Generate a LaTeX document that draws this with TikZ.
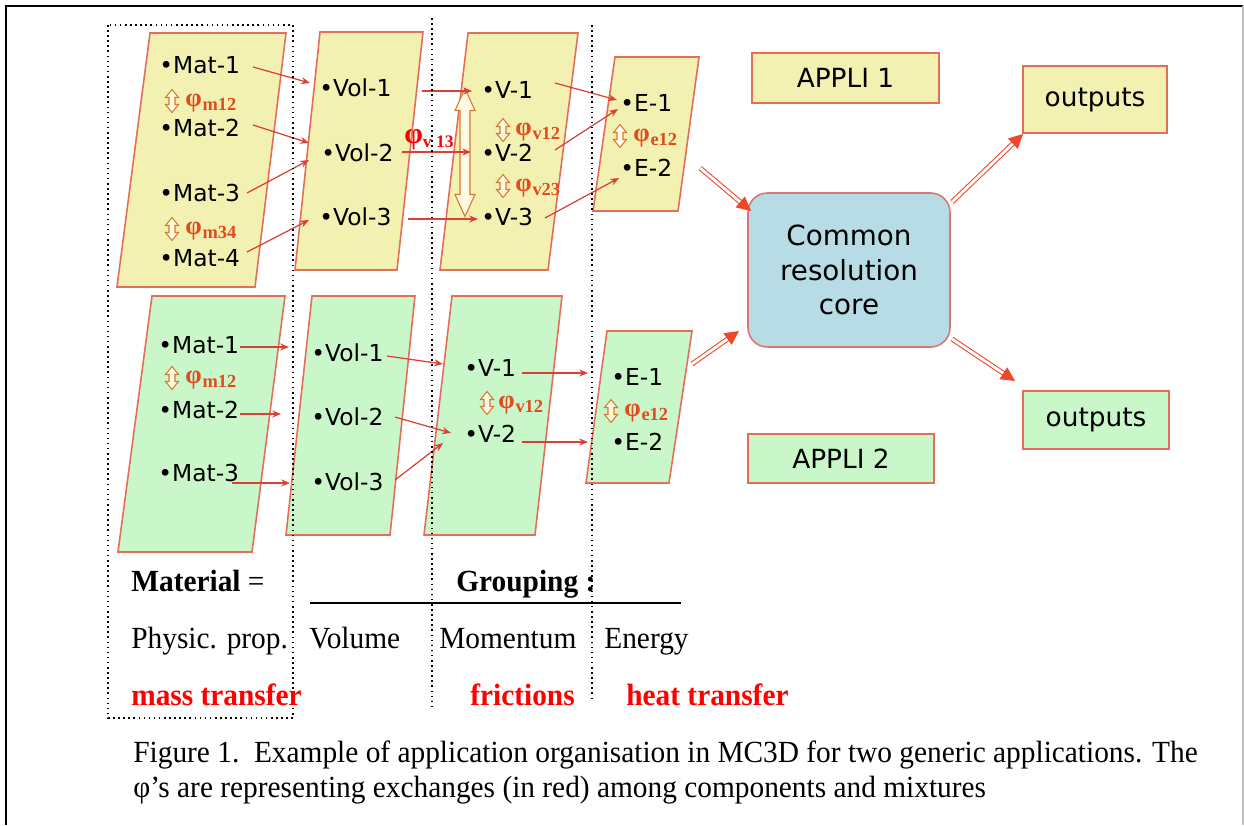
\documentclass[tikz,border=0pt]{standalone}
\usepackage{fontspec}
\setmainfont[FakeStretch=0.955]{Liberation Serif}
\newfontfamily\diagfont{DejaVu Sans}
\newfontfamily\phifont{Liberation Serif}
\usetikzlibrary{arrows.meta}

\definecolor{yfill}{RGB}{243,241,178}
\definecolor{gfill}{RGB}{202,247,202}
\definecolor{pline}{RGB}{228,110,90}
\definecolor{lred}{RGB}{215,65,55}
\definecolor{phicol}{RGB}{225,75,30}
\definecolor{iconcol}{RGB}{215,120,50}
\definecolor{iconfill}{RGB}{255,250,225}
\definecolor{corefill}{RGB}{183,220,229}
\definecolor{coreline}{RGB}{215,120,115}
\definecolor{fatred}{RGB}{238,72,40}

\newcommand\phisub[1]{φ\kern0.4pt\raisebox{-0.35ex}{\fontsize{10.5}{10.5}\selectfont #1}}

\tikzset{
  panelA/.style={draw=pline, line width=0.9pt, fill=yfill},
  panelB/.style={draw=pline, line width=0.9pt, fill=gfill},
  item/.style={font=\diagfont\fontsize{13.3}{16}\selectfont, inner sep=0pt, anchor=west},
  philabel/.style={font=\phifont\bfseries\fontsize{15}{15}\selectfont, text=phicol, inner sep=0pt, anchor=west},
  link/.style={draw=lred, line width=0.7pt, -{Stealth[length=5pt,width=4pt]}},
  fat/.style={draw=fatred, line width=0.6pt, double=white, double distance=1.6pt, -{Triangle[length=8pt,width=8pt]}},
  guide/.style={dotted, line width=0.9pt},
  tagbox/.style={draw=pline, line width=0.9pt, font=\diagfont\fontsize{15}{18}\selectfont, inner sep=0pt},
  core/.style={draw=coreline, line width=0.9pt, fill=corefill, rounded corners=11pt, align=center,
    font=\diagfont\fontsize{15.8}{19.8}\selectfont, inner sep=0pt},
  legend/.style={font=\fontsize{17.5}{20}\selectfont, inner sep=0pt, anchor=base west},
  pics/updown/.style args={#1/#2/#3/#4}{code={
    \draw[draw=iconcol, fill=iconfill, line width=0.6pt]
      (0,-#1) -- (#3,-#1+#2) -- (#4,-#1+#2) -- (#4,#1-#2) -- (#3,#1-#2) -- (0,#1)
      -- (-#3,#1-#2) -- (-#4,#1-#2) -- (-#4,-#1+#2) -- (-#3,-#1+#2) -- cycle;}}
}

\begin{document}
\begin{tikzpicture}[x=0.02cm, y=-0.02cm]
\useasboundingbox (0,0) rectangle (1244,825);

% page frame
\draw[line width=1.5pt] (6,825) -- (6,6) -- (1243,6);
\draw[gray!50, line width=0.6pt] (1243,6) -- (1243,825);

% ---- application 1 (yellow) ----
\draw[panelA] (150,33) -- (286,33) -- (255,287) -- (117,287) -- cycle;
\draw[panelA] (320,32) -- (423,32) -- (397,270) -- (295,270) -- cycle;
\draw[panelA] (468,33) -- (578,33) -- (548,270) -- (440,270) -- cycle;
\draw[panelA] (615,57) -- (699,57) -- (678,211) -- (593,211) -- cycle;

% ---- application 2 (green) ----
\draw[panelB] (152,296) -- (285,296) -- (252,552) -- (118,552) -- cycle;
\draw[panelB] (312,296) -- (415,296) -- (390,535) -- (286,535) -- cycle;
\draw[panelB] (452,296) -- (562,296) -- (535,535) -- (424,535) -- cycle;
\draw[panelB] (607,331) -- (692,331) -- (669,483) -- (586,483) -- cycle;

% material / volume / momentum / energy items, application 1
\node[item] (am1) at (159,65)  {•Mat-1};
\node[item] (am2) at (159,128) {•Mat-2};
\node[item] (am3) at (159,193) {•Mat-3};
\node[item] (am4) at (159,258) {•Mat-4};
\node[item] (av1) at (319,88)  {•Vol-1};
\node[item] (av2) at (321,153) {•Vol-2};
\node[item] (av3) at (319,217) {•Vol-3};
\node[item] (ap1) at (481,90)  {•V-1};
\node[item] (ap2) at (481,153) {•V-2};
\node[item] (ap3) at (481,217) {•V-3};
\node[item] (ae1) at (620,103) {•E-1};
\node[item] (ae2) at (620,168) {•E-2};

% material / volume / momentum / energy items, application 2
\node[item] (bm1) at (158,345) {•Mat-1};
\node[item] (bm2) at (158,410) {•Mat-2};
\node[item] (bm3) at (158,473) {•Mat-3};
\node[item] (bv1) at (311,353) {•Vol-1};
\node[item] (bv2) at (311,417) {•Vol-2};
\node[item] (bv3) at (311,482) {•Vol-3};
\node[item] (bp1) at (464,368) {•V-1};
\node[item] (bp2) at (464,434) {•V-2};
\node[item] (be1) at (611,377) {•E-1};
\node[item] (be2) at (611,442) {•E-2};

% exchange markers
\pic at (172,101) {updown={11.5/8/6.5/3}};
\node[philabel] (aphm12) at (185,103) {\phisub{m12}};
\pic at (172,229) {updown={11.5/8/6.5/3}};
\node[philabel] (aphm34) at (185,231) {\phisub{m34}};
\pic at (503,130) {updown={11.5/8/6.5/3}};
\node[philabel] (aphv12) at (515,132) {\phisub{v12}};
\pic at (503,186) {updown={11.5/8/6.5/3}};
\node[philabel] (aphv23) at (515,188) {\phisub{v23}};
\pic at (620,136) {updown={11.5/8/6.5/3}};
\node[philabel] (aphe12) at (633,138) {\phisub{e12}};
\pic at (172,378) {updown={11.5/8/6.5/3}};
\node[philabel] (bphm12) at (185,380) {\phisub{m12}};
\pic at (487,403) {updown={11.5/8/6.5/3}};
\node[philabel] (bphv12) at (498,405) {\phisub{v12}};
\pic at (611,411) {updown={11.5/8/6.5/3}};
\node[philabel] (bphe12) at (624,413) {\phisub{e12}};

% momentum exchange between V-1 and V-3
\pic at (465,152.5) {updown={64/22/10/5}};
\node[inner sep=0pt, anchor=west, text=red, font=\phifont\bfseries\fontsize{17}{17}\selectfont]
  (aphv13) at (404,140) {φ\raisebox{-0.3ex}{\fontsize{10}{10}\selectfont v 13}};

% connector end points, application 1
\coordinate (am1o) at (253,67);  \coordinate (av1i) at (310,83);
\coordinate (am2o) at (253,125); \coordinate (av2i) at (309,143);
\coordinate (am3o) at (247,193); \coordinate (av2j) at (309,160);
\coordinate (am4o) at (247,252); \coordinate (av3i) at (309,220);
\coordinate (av1o) at (422,91);  \coordinate (ap1i) at (472,91);
\coordinate (av2o) at (402,152); \coordinate (ap2i) at (471,152);
\coordinate (av3o) at (408,219); \coordinate (ap3i) at (478,219);
\coordinate (ap1o) at (555,83);  \coordinate (ae1i) at (617,100);
\coordinate (ap2o) at (555,150); \coordinate (ae1j) at (618,109);
\coordinate (ap3o) at (545,218); \coordinate (ae2i) at (619,178);

\draw[link] (am1o) -- (av1i);
\draw[link] (am2o) -- (av2i);
\draw[link] (am3o) -- (av2j);
\draw[link] (am4o) -- (av3i);
\draw[link] (av1o) -- (ap1i);
\draw[link] (av2o) -- (ap2i);
\draw[link] (av3o) -- (ap3i);
\draw[link] (ap1o) -- (ae1i);
\draw[link] (ap2o) -- (ae1j);
\draw[link] (ap3o) -- (ae2i);

% connector end points, application 2
\coordinate (bm1o) at (240,347); \coordinate (bm1x) at (289,347);
\coordinate (bm2o) at (240,414); \coordinate (bm2x) at (281,414);
\coordinate (bm3o) at (232,483); \coordinate (bm3x) at (290,483);
\coordinate (bv1o) at (387,356); \coordinate (bp1i) at (443,364);
\coordinate (bv2o) at (395,417); \coordinate (bp2i) at (451,433);
\coordinate (bv3o) at (395,480); \coordinate (bp2j) at (443,443);
\coordinate (bp1o) at (522,373); \coordinate (be1i) at (588,373);
\coordinate (bp2o) at (522,442); \coordinate (be2i) at (588,442);

\draw[link] (bm1o) -- (bm1x);
\draw[link] (bm2o) -- (bm2x);
\draw[link] (bm3o) -- (bm3x);
\draw[link] (bv1o) -- (bp1i);
\draw[link] (bv2o) -- (bp2i);
\draw[link] (bv3o) -- (bp2j);
\draw[link] (bp1o) -- (be1i);
\draw[link] (bp2o) -- (be2i);

% right-hand blocks
\node[tagbox, fill=yfill, minimum width=3.74cm, minimum height=1.0cm] (appli1) at (845.5,78) {APPLI 1};
\node[tagbox, fill=gfill, minimum width=3.72cm, minimum height=0.98cm] (appli2) at (841,458.5) {APPLI 2};
\node[tagbox, fill=yfill, minimum width=2.88cm, minimum height=1.34cm] (out1) at (1095,99.5) {outputs};
\node[tagbox, fill=gfill, minimum width=2.92cm, minimum height=1.16cm] (out2) at (1096,420) {outputs};
\node[core, minimum width=4.04cm, minimum height=3.08cm] (core) at (849,270) {Common\\resolution\\core};

\coordinate (aeo) at (700,168);  \coordinate (corei) at (751,211);
\coordinate (beo) at (692,364);  \coordinate (corej) at (739,331);
\coordinate (coreo) at (952,202); \coordinate (out1i) at (1023,134);
\coordinate (corep) at (952,339); \coordinate (out2i) at (1015,381);
\draw[fat] (aeo) -- (corei);
\draw[fat] (beo) -- (corej);
\draw[fat] (coreo) -- (out1i);
\draw[fat] (corep) -- (out2i);

% column guides
\draw[guide] (108,25) rectangle (293,718);
\draw[guide] (432,18) -- (432,710);
\draw[guide] (592,25) -- (592,700);

% legend under the diagram
\node[legend] (lmat) at (131,591) {\textbf{Material} =};
\node[legend] (lgrp) at (456,591) {\textbf{Grouping :}};
\draw[line width=1.1pt] (310,603) -- (681,603);
\node[legend] (lphy) at (131,648) {Physic. prop.};
\node[legend] (lvol) at (309,648) {Volume};
\node[legend] (lmom) at (439,648) {Momentum};
\node[legend] (lene) at (604,648) {Energy};
\node[legend, text=red, font=\bfseries\fontsize{17.5}{20}\selectfont] (lmass) at (131,705) {mass transfer};
\node[legend, text=red, font=\bfseries\fontsize{17.5}{20}\selectfont] (lfric) at (470,705) {frictions};
\node[legend, text=red, font=\bfseries\fontsize{17.5}{20}\selectfont] (lheat) at (626,705) {heat transfer};

% caption
\node[legend] (cap1) at (133,762) {Figure 1.\ \ Example of application organisation in MC3D for two generic applications. The};
\node[legend] (cap2) at (133,797) {φ’s are representing exchanges (in red) among components and mixtures};
\end{tikzpicture}
\end{document}
